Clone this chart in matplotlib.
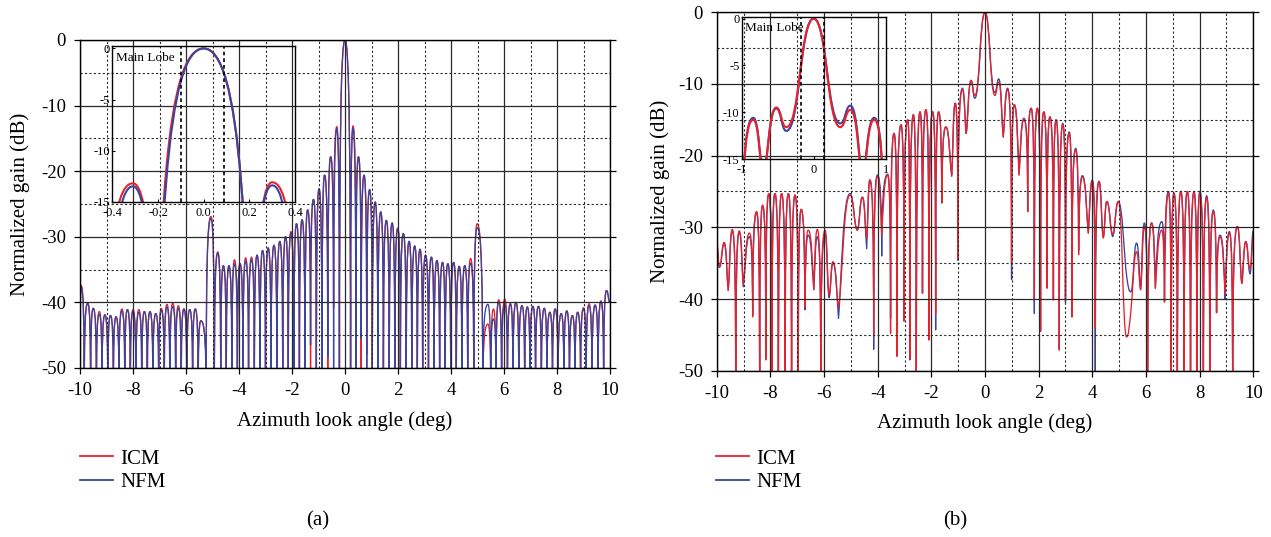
import numpy as np
import matplotlib
matplotlib.use("Agg")
import matplotlib.pyplot as plt
from matplotlib.lines import Line2D
from matplotlib.path import Path
from matplotlib.patches import PathPatch
from matplotlib.ticker import MultipleLocator

plt.rcParams['font.family'] = ['Liberation Serif', 'DejaVu Serif']
plt.rcParams['axes.unicode_minus'] = False

F = -55.0  # null that runs off the bottom of the plot

# ---------------- panel (a): lobe peaks and nulls ----------------
a_peak_x = [-9.96, -9.71, -9.50, -9.27, -9.06, -8.85, -8.64, -8.42, -8.21, -8.00, -7.78,
            -7.57, -7.36, -7.14, -6.93, -6.72, -6.50, -6.29, -6.08, -5.86, -5.65, -5.44,
            -5.06,
            -4.80, -4.59, -4.38, -4.17, -3.96, -3.75, -3.53, -3.32, -3.11, -2.90, -2.68,
            -2.46, -2.24, -2.04, -1.83, -1.62, -1.41, -1.19, -0.98, -0.77, -0.54, -0.31,
            0.00,
            0.30, 0.51, 0.72, 0.93, 1.14, 1.35, 1.56, 1.78, 1.99, 2.20, 2.42,
            2.63, 2.83, 3.04, 3.26, 3.47, 3.68, 3.88, 4.10, 4.31, 4.52, 4.74,
            4.99,
            5.39, 5.60, 5.80, 6.03, 6.24, 6.45, 6.68, 6.88, 7.09, 7.30, 7.52,
            7.73, 7.93, 8.16, 8.37, 8.58, 8.78, 9.00, 9.21, 9.44, 9.66, 9.87]
a_peak_icm = [-37.4, -40.0, -40.9, -41.4, -41.9, -42.0, -42.2, -41.0, -41.1, -41.1, -41.1,
              -41.4, -41.4, -41.7, -40.9, -40.3, -40.1, -40.5, -41.0, -41.1, -41.0, -42.8,
              -26.9,
              -32.3, -34.4, -34.4, -33.5, -34.1, -33.2, -33.1, -32.8, -32.1, -31.7, -31.3,
              -30.7, -30.0, -29.2, -28.0, -27.4, -25.9, -24.3, -22.7, -20.6, -17.8, -13.2,
              0.0,
              -13.1, -17.8, -20.6, -22.8, -24.7, -26.2, -27.5, -27.9, -28.7, -29.5, -30.7,
              -31.4, -31.9, -32.8, -33.1, -33.6, -33.9, -34.1, -33.9, -34.5, -34.4, -33.3,
              -28.0,
              -43.3, -41.0, -39.6, -39.5, -40.2, -40.0, -40.5, -40.7, -40.6, -40.6, -40.9,
              -41.5, -41.0, -41.7, -41.3, -42.0, -41.5, -40.8, -40.2, -40.4, -39.8, -38.2]
a_peak_nfm = [-37.6, -40.2, -40.9, -41.8, -41.9, -42.0, -42.2, -41.3, -41.1, -41.4, -41.5,
              -41.4, -41.4, -41.7, -41.2, -40.7, -40.6, -40.9, -41.0, -41.1, -41.0, -42.8,
              -27.2,
              -32.5, -34.4, -34.4, -34.1, -34.1, -33.7, -33.5, -32.8, -32.1, -31.7, -31.3,
              -30.7, -30.0, -29.4, -28.0, -27.4, -25.9, -24.3, -22.7, -20.6, -17.8, -13.5,
              0.0,
              -13.4, -17.8, -20.6, -22.8, -24.7, -26.2, -27.5, -27.9, -28.7, -29.5, -30.7,
              -31.4, -31.9, -32.8, -33.1, -33.6, -33.9, -34.1, -33.9, -34.5, -34.4, -34.0,
              -28.6,
              -40.3, -42.5, -40.0, -40.3, -40.2, -40.0, -40.5, -40.7, -40.6, -40.6, -40.9,
              -41.5, -41.0, -41.7, -41.3, -42.0, -41.5, -41.0, -40.5, -40.4, -39.8, -38.2]

a_null_x = [-10.00, -9.84, -9.60, -9.38, -9.17, -8.95, -8.74, -8.53, -8.31, -8.10, -7.89,
            -7.67, -7.46, -7.25, -7.03, -6.82, -6.61, -6.39, -6.18, -5.97, -5.75, -5.54,
            -5.24, -4.93,
            -4.69, -4.48, -4.27, -4.06, -3.85, -3.64, -3.42, -3.21, -3.00, -2.79, -2.57,
            -2.35, -2.14, -1.93, -1.72, -1.51, -1.30, -1.08, -0.87, -0.65, -0.43,
            -0.21, 0.21,
            0.41, 0.61, 0.82, 1.03, 1.24, 1.45, 1.67, 1.88, 2.09, 2.31, 2.52,
            2.73, 2.93, 3.15, 3.36, 3.57, 3.78, 3.99, 4.20, 4.41, 4.63,
            4.86, 5.20,
            5.50, 5.70, 5.91, 6.13, 6.34, 6.56, 6.78, 6.98, 7.19, 7.41, 7.62,
            7.83, 8.04, 8.26, 8.47, 8.68, 8.89, 9.10, 9.32, 9.55, 9.76, 10.00]
a_null_icm = [F, F, F, F, F, F, F, F, F, F, F,
              F, F, F, F, F, F, F, F, F, F, F,
              F, F,
              F, F, F, F, F, F, F, F, F, F, F,
              F, F, F, F, F, F, F, F, F, -40.8,
              -50.0, F,
              -39.8, F, -48.0, F, F, F, F, F, F, F, F,
              F, F, F, F, F, F, F, F, F, F,
              F, F,
              F, F, F, F, F, F, F, F, F, F, F,
              F, F, F, F, F, F, F, F, F, F, -40.0]
a_null_nfm = [F, F, F, F, F, F, F, F, F, F, F,
              F, F, F, F, F, F, F, F, F, F, F,
              F, F,
              F, F, F, F, F, F, F, F, F, F, F,
              F, F, F, F, F, -46.5, F, F, -48.3, F,
              F, F,
              F, -45.5, F, F, F, F, F, F, F, F, F,
              F, F, F, F, F, F, F, F, F, F,
              F, F,
              F, F, F, F, F, F, F, F, F, F, F,
              F, F, F, F, F, F, F, F, F, F, -40.0]

# ---------------- panel (b): pattern maxima and minima ----------------
b_x = [-10.00, -9.90, -9.72, -9.57, -9.42, -9.29, -9.16, -9.01, -8.78, -8.66,
       -8.51, -8.40, -8.29, -8.17, -8.06, -7.94, -7.83, -7.70, -7.58, -7.45,
       -7.33, -7.21, -7.08, -6.96, -6.85, -6.71, -6.59, -6.38, -6.25, -6.12,
       -5.96, -5.81, -5.67, -5.46, -5.03, -4.76, -4.57, -4.41, -4.29, -4.15,
       -4.01, -3.85, -3.63, -3.52, -3.39, -3.28, -3.13, -3.02, -2.88, -2.80,
       -2.67, -2.56, -2.42, -2.33, -2.20, -2.09, -1.95, -1.84, -1.73, -1.61,
       -1.46, -1.24, -1.11, -1.01, -0.84, -0.70, -0.52, -0.38, 0.00, 0.37,
       0.51, 0.68, 0.84, 0.99, 1.09, 1.27, 1.45, 1.59, 1.72, 1.84,
       1.95, 2.07, 2.19, 2.31, 2.42, 2.55, 2.65, 2.77, 2.90, 3.00,
       3.14, 3.24, 3.38, 3.49, 3.63, 3.85, 4.00, 4.11, 4.25, 4.41,
       4.54, 4.76, 4.97, 5.28, 5.43, 5.65, 5.80, 5.94, 6.06, 6.21,
       6.35, 6.59, 6.69, 6.84, 6.94, 7.04, 7.17, 7.30, 7.42, 7.54,
       7.66, 7.79, 7.90, 8.01, 8.14, 8.26, 8.38, 8.51, 8.63, 8.76,
       8.95, 9.11, 9.23, 9.41, 9.57, 9.72, 9.88, 10.00]
b_icm = [-32.3, -35.4, -32.1, -38.8, -30.3, F, -30.5, -38.0, -30.8, -42.5,
         -27.8, F, -26.9, -48.5, -25.3, F, -25.3, F, -25.3, F,
         -25.3, F, -25.5, -50.0, -27.5, -41.1, -30.4, -38.7, -30.3, F,
         -30.4, -39.4, -34.8, -41.1, -25.5, -30.4, -25.8, -31.5, -23.4, -45.0,
         -22.9, -31.0, -22.7, -44.8, -16.9, -48.0, -15.7, -43.1, -15.0, -48.3,
         -14.3, F, -13.9, -39.2, -13.6, -45.7, -13.9, -42.0, -13.9, -26.6,
         -16.0, -22.7, -12.7, -34.4, -10.8, -16.9, -9.5, -11.6, 0.0, -11.6,
         -9.75, -17.4, -10.8, -35.0, -12.9, -22.7, -15.0, -27.8, -13.4, -40.1,
         -13.4, -44.5, -13.9, -38.5, -14.6, -40.1, -15.0, -47.1, -15.7, -40.1,
         -16.9, -42.5, -19.2, -33.8, -23.0, -30.8, -23.6, -44.0, -23.6, -31.5,
         -26.4, -31.0, -26.4, -45.3, -42.0, -33.4, -38.7, -29.9, F, -29.4,
         -38.5, -30.4, -40.4, -25.3, F, -25.3, F, -25.0, F, -25.0,
         F, -25.2, F, -25.2, F, -25.9, F, -27.8, -41.9, -31.3,
         -39.4, -30.8, F, -29.9, -37.8, -32.0, -35.8, -31.3]
b_nfm = [-32.3, -35.6, -32.3, -38.8, -30.5, F, -30.7, -38.3, -31.3, -42.3,
         -28.0, F, -27.0, -48.0, -25.4, -48.3, -25.3, F, -25.3, F,
         -25.3, F, -25.5, F, -27.5, -41.5, -31.1, -38.7, -31.3, F,
         -31.0, -39.8, -35.0, -42.7, -25.3, -30.4, -25.8, -33.0, -23.4, -47.0,
         -22.7, -34.0, -22.6, -42.7, -16.9, -44.8, -15.7, -41.5, -15.0, -48.5,
         -14.3, F, -13.9, -39.2, -13.6, -45.7, -13.9, -44.3, -13.9, -26.6,
         -16.0, -22.9, -12.7, -34.6, -10.6, -16.9, -9.6, -12.0, 0.0, -11.2,
         -9.3, -17.4, -10.6, -37.3, -12.9, -22.7, -14.8, -27.8, -13.4, -42.0,
         -13.4, -44.5, -13.9, -37.5, -14.6, -40.1, -15.0, -47.1, -15.5, -40.5,
         -16.7, -42.5, -19.0, -33.2, -22.8, -30.8, -23.4, F, -23.6, -31.3,
         -26.4, -31.3, -26.4, -36.8, -39.0, -32.2, -38.7, -29.4, F, -29.4,
         -38.5, -29.2, -40.4, -25.0, F, -25.2, F, -25.0, F, -25.0,
         F, -25.0, F, -25.0, F, -25.6, F, -27.6, -41.9, -31.1,
         -40.0, -30.6, F, -29.9, -37.8, -32.0, -36.5, -30.5]

legend_labels = ['ICM', 'NFM']
x_ticks = [-10, -8, -6, -4, -2, 0, 2, 4, 6, 8, 10]
y_ticks = [-50, -40, -30, -20, -10, 0]

RED = '#e8222d'
BLUE = '#3b459d'
W, H = 1271, 537


def merge(xs, ys):
    x = np.concatenate([np.asarray(v, float) for v in xs])
    y = np.concatenate([np.asarray(v, float) for v in ys])
    order = np.argsort(x, kind='stable')
    return x[order], y[order]


def lobe_path(x, y):
    # smooth Bezier path through the read maxima/minima: round tops,
    # sharp (vertical) entries into deep nulls, soft shallow minima
    x = np.asarray(x, float)
    y = np.asarray(y, float)
    n = len(x)
    kind, sharp = [], np.zeros(n)
    for i in range(n):
        nb = [y[j] for j in (i - 1, i + 1) if 0 <= j < n]
        if all(y[i] >= v for v in nb):
            kind.append('max')
        elif all(y[i] <= v for v in nb):
            kind.append('min')
            sharp[i] = np.clip((min(nb) - y[i] - 4) / 8, 0, 1)
        else:
            kind.append('mid')

    def handle(i, j):
        dx = x[j] - x[i]
        if kind[i] == 'max':
            return (x[i] + (0.5 + 0.25 * sharp[j]) * dx, y[i])
        if kind[i] == 'min':
            s = sharp[i]
            return (x[i] + (1 - s) * 0.5 * dx, y[i] + s * 0.7 * (y[j] - y[i]))
        m = (y[i + 1] - y[i - 1]) / (x[i + 1] - x[i - 1])
        return (x[i] + dx / 3, y[i] + m * dx / 3)

    verts, codes = [(x[0], y[0])], [Path.MOVETO]
    for i in range(n - 1):
        verts += [handle(i, i + 1), handle(i + 1, i), (x[i + 1], y[i + 1])]
        codes += [Path.CURVE4] * 3
    return Path(verts, codes)


def draw(ax, path, color, lw):
    ax.add_patch(PathPatch(path, facecolor='none', edgecolor=color, lw=lw,
                           joinstyle='round', capstyle='butt'))


def style_main(ax):
    ax.set_xlim(-10, 10)
    ax.set_ylim(-50, 0)
    ax.set_xticks(x_ticks)
    ax.set_yticks(y_ticks)
    ax.xaxis.set_minor_locator(MultipleLocator(1))
    ax.yaxis.set_minor_locator(MultipleLocator(5))
    ax.grid(which='major', color='#2a2a2a', lw=0.9, ls='-')
    ax.grid(which='minor', color='#2a2a2a', lw=0.8, ls=(0, (2, 2)))
    ax.tick_params(which='major', direction='out', length=4, width=0.9,
                   labelsize=13.5, pad=6, right=True)
    ax.tick_params(which='minor', length=0)
    for s in ax.spines.values():
        s.set_linewidth(1.0)
    ax.set_xlabel('Azimuth look angle (deg)', fontsize=15)
    ax.set_ylabel('Normalized gain (dB)', fontsize=15)


def style_inset(ax, xlim, ylim, xt, xtl, marks):
    ax.set_facecolor('none')
    ax.set_xlim(*xlim)
    ax.set_ylim(*ylim)
    ax.set_xticks(xt)
    ax.set_xticklabels(xtl)
    ax.set_yticks([-15, -10, -5, 0])
    ax.set_yticklabels(['-15', '-10', '-5', '0'])
    ax.tick_params(direction='in', length=2.5, width=0.8, labelsize=9, pad=1.5)
    ax.tick_params(axis='x', pad=3.5)
    for s in ax.spines.values():
        s.set_linewidth(1.0)
    for m in marks:
        ax.axvline(m, color='k', lw=1.2, ls=(0, (2.2, 1.8)))
    ax.text(0.02, 0.92, 'Main Lobe', transform=ax.transAxes, fontsize=9.5,
            ha='left', va='center')


fig = plt.figure(figsize=(W / 100, H / 100), dpi=100)

# ---- (a) ----
ax_a = fig.add_axes([80 / W, 1 - 368 / H, 530 / W, 328 / H])
ax_ai = fig.add_axes([112.3 / W, 1 - 201.7 / H, 182.7 / W, 156 / H])
xa, ya_icm = merge([a_peak_x, a_null_x], [a_peak_icm, a_null_icm])
_, ya_nfm = merge([a_peak_x, a_null_x], [a_peak_nfm, a_null_nfm])
path_a_icm = lobe_path(xa, ya_icm)
path_a_nfm = lobe_path(xa, ya_nfm)
draw(ax_a, path_a_icm, RED, 0.95)
draw(ax_a, path_a_nfm, BLUE, 0.95)
style_main(ax_a)
ax_a.xaxis.set_label_coords(0.5, -0.132)
ax_a.yaxis.set_label_coords(-0.094, 0.5)
draw(ax_ai, path_a_icm, RED, 1.5)
draw(ax_ai, path_a_nfm, BLUE, 1.5)
style_inset(ax_ai, (-0.4, 0.4), (-15, 0.27), [-0.4, -0.2, 0.0, 0.2, 0.4],
            ['-0.4', '-0.2', '0.0', '0.2', '0.4'], [-0.1, 0.09])

# ---- (b) ----
ax_b = fig.add_axes([716.7 / W, 1 - 370.7 / H, 536.6 / W, 358.5 / H])
ax_bi = fig.add_axes([741.7 / W, 1 - 159 / H, 144 / W, 142.3 / H])
path_b_icm = lobe_path(b_x, b_icm)
path_b_nfm = lobe_path(b_x, b_nfm)
draw(ax_b, path_b_nfm, BLUE, 0.95)
draw(ax_b, path_b_icm, RED, 0.95)
style_main(ax_b)
ax_b.xaxis.set_label_coords(0.5, -0.118)
ax_b.yaxis.set_label_coords(-0.087, 0.5)
draw(ax_bi, path_b_nfm, BLUE, 1.5)
draw(ax_bi, path_b_icm, RED, 1.5)
style_inset(ax_bi, (-1, 1), (-15, 0.2), [-1, 0, 1], ['-1', '0', '1'], [-0.18, 0.14])

# ---- legends and panel tags ----
handles = [Line2D([], [], color=RED, lw=1.3), Line2D([], [], color=BLUE, lw=1.3)]
for x0, tag, xt in [(80, '(a)', 318), (716, '(b)', 955)]:
    fig.legend(handles, legend_labels, loc='upper left',
               bbox_to_anchor=(x0 / W, 1 - 449 / H), frameon=False, fontsize=15,
               borderpad=0, borderaxespad=0, handlelength=1.6, handletextpad=0.35,
               labelspacing=0.2)
    fig.text(xt / W, 1 - 521 / H, tag, ha='center', va='center', fontsize=15)

fig.savefig('out.png', dpi=100)
